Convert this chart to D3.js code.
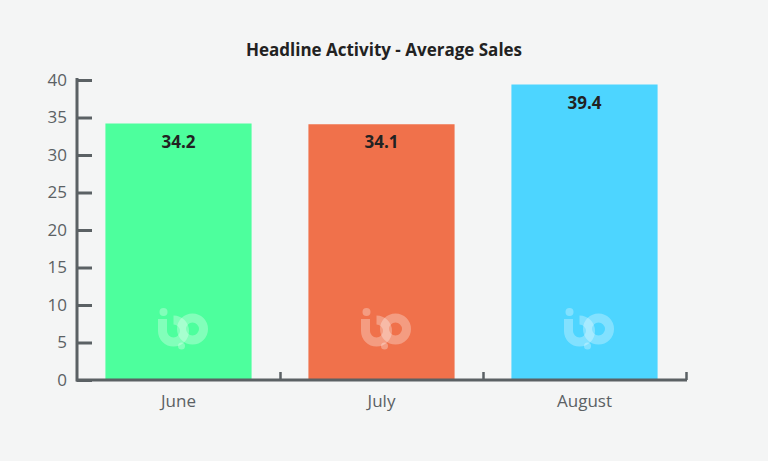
<!DOCTYPE html>
<html><head><meta charset="utf-8">
<script src="https://cdn.jsdelivr.net/npm/d3@7"></script>
<style>body{margin:0;background:#f4f5f5;font-family:"Open Sans",sans-serif}</style>
</head><body>
<script>
const months = ["June", "July", "August"];
const sales = [34.2, 34.1, 39.4];
const colors = ["#4dff9d", "#f0714b", "#4dd5ff"];
const yTicks = [0, 5, 10, 15, 20, 25, 30, 35, 40];

const width = 768, height = 461;
const svg = d3.select("body").append("svg").attr("width", width).attr("height", height);
const axisColor = "#5b6164";

const x = d3.scaleBand().domain(months).range([77, 686]).paddingInner(0.28).paddingOuter(0.14);
const y = d3.scaleLinear().domain([0, 40]).range([380, 80]);

svg.append("text").attr("x", 384).attr("y", 56).attr("text-anchor", "middle")
  .attr("font-size", 17).attr("font-weight", 700).attr("fill", "#222")
  .text("Headline Activity - Average Sales");

// bars
const g = svg.selectAll("g.bar").data(months).join("g").attr("class", "bar");
g.append("rect")
  .attr("x", d => x(d)).attr("width", x.bandwidth())
  .attr("y", (d, i) => y(sales[i])).attr("height", (d, i) => y(0) - y(sales[i]))
  .attr("fill", (d, i) => colors[i]);
g.append("text")
  .attr("x", d => x(d) + x.bandwidth() / 2).attr("y", (d, i) => y(sales[i]) + 24)
  .attr("text-anchor", "middle").attr("font-size", 17).attr("font-weight", 700).attr("fill", "#222")
  .text((d, i) => sales[i].toFixed(1));

// logo watermark
const logo = g.append("g")
  .attr("transform", d => `translate(${x(d) + x.bandwidth() / 2},${y(6.8)})`)
  .attr("fill", "none").attr("stroke", "#fff").attr("stroke-opacity", 0.3);
logo.append("path").attr("d", "M-16,-10 L-16,2 A11,11 0 1,0 -5,-9").attr("stroke-width", 9);
logo.append("circle").attr("cx", 14).attr("r", 11).attr("stroke-width", 9);
logo.append("circle").attr("cx", -15).attr("cy", -17).attr("r", 4).attr("fill", "#fff").attr("fill-opacity", 0.3).attr("stroke", "none");
logo.append("circle").attr("cx", 3).attr("cy", 17).attr("r", 3.5).attr("fill", "#fff").attr("fill-opacity", 0.3).attr("stroke", "none");

// y axis
const ya = svg.append("g").attr("transform", "translate(77,0)")
  .call(d3.axisRight(y).tickValues(yTicks).tickSize(15).tickFormat(d3.format("d")));
ya.select(".domain").remove();
ya.selectAll("line").attr("stroke", axisColor).attr("stroke-width", 3);
ya.selectAll("text").attr("x", -10).attr("text-anchor", "end").attr("font-size", 17).attr("fill", axisColor)
  .attr("font-family", "Open Sans");
svg.append("line").attr("x1", 77).attr("x2", 77).attr("y1", 78).attr("y2", 381.5).attr("stroke", axisColor).attr("stroke-width", 3);

// x axis
svg.append("line").attr("x1", 76).attr("x2", 687).attr("y1", 380).attr("y2", 380).attr("stroke", axisColor).attr("stroke-width", 3);
const step = x.step();
svg.selectAll("line.xt").data(months).join("line").attr("class", "xt")
  .attr("x1", d => x(d) + x.bandwidth() + step * 0.14 + 0.5).attr("x2", d => x(d) + x.bandwidth() + step * 0.14 + 0.5)
  .attr("y1", 372).attr("y2", 380).attr("stroke", axisColor).attr("stroke-width", 2.5);
svg.selectAll("text.xl").data(months).join("text").attr("class", "xl")
  .attr("x", d => x(d) + x.bandwidth() / 2).attr("y", 407).attr("text-anchor", "middle")
  .attr("font-size", 17).attr("fill", axisColor).text(d => d);
</script>
</body></html>
